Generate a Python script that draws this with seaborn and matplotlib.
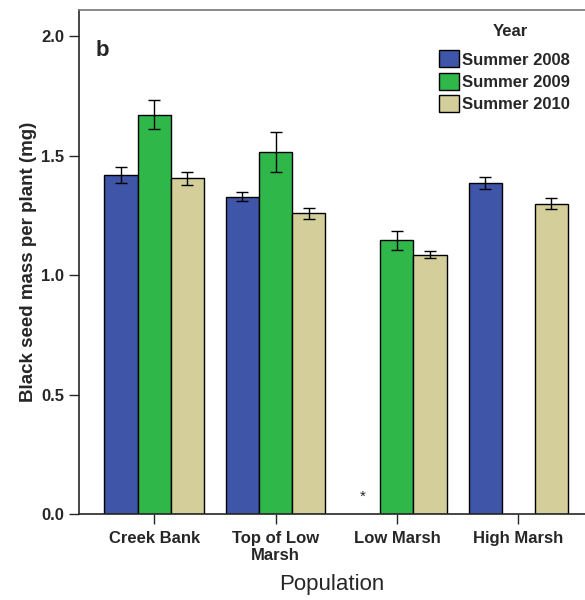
import numpy as np
import pandas as pd
import matplotlib
matplotlib.use("Agg")
import matplotlib.pyplot as plt
import seaborn as sns

categories = ["Creek Bank", "Top of Low\nMarsh", "Low Marsh", "High Marsh"]
years = ["Summer 2008", "Summer 2009", "Summer 2010"]
mean_2008 = [1.42, 1.33, np.nan, 1.385]
mean_2009 = [1.672, 1.515, 1.146, np.nan]
mean_2010 = [1.406, 1.259, 1.086, 1.30]
err_2008 = [0.035, 0.018, np.nan, 0.025]
err_2009 = [0.06, 0.083, 0.038, np.nan]
err_2010 = [0.026, 0.022, 0.015, 0.022]
colors = ["#3F55A8", "#2FB849", "#D4CF9A"]

rows = []
for yr, means, errs in zip(years, [mean_2008, mean_2009, mean_2010], [err_2008, err_2009, err_2010]):
    for c, m, e in zip(categories, means, errs):
        rows.append({"Population": c, "Year": yr, "mean": m, "err": e})
df = pd.DataFrame(rows)

sns.set_style("ticks")
plt.rcParams["font.family"] = ["Liberation Sans", "DejaVu Sans"]

fig = plt.figure(figsize=(5.85, 6.0), dpi=100)
ax = fig.add_axes([0.135, 0.143, 0.865, 0.84])

sns.barplot(data=df.dropna(subset=["mean"]), x="Population", y="mean", hue="Year",
            order=categories, hue_order=years, palette=colors, errorbar=None,
            width=0.82, edgecolor="black", linewidth=1.0, saturation=1, ax=ax)

# error bars
for yi, (yr, cont) in enumerate(zip(years, ax.containers)):
    sub = df[df["Year"] == yr].set_index("Population")
    for bar in cont:
        xc = bar.get_x() + bar.get_width() / 2
        ci = int(round(xc))
        e = sub.loc[categories[ci], "err"]
        ax.errorbar(xc, bar.get_height(), yerr=e, color="black", capsize=4,
                    elinewidth=1.0, capthick=1.0, zorder=5)

# asterisk for missing Low Marsh 2008
ax.text(2 - 0.285, 0.075, "*", ha="center", va="center", fontsize=11)

ax.set_xlim(-0.62, 3.55)
ax.set_ylim(0, 2.11)
ax.set_yticks([0, 0.5, 1.0, 1.5, 2.0])
ax.set_yticklabels(["0.0", "0.5", "1.0", "1.5", "2.0"])
ax.tick_params(axis="both", labelsize=12, length=7, width=1)
ax.tick_params(axis="x", pad=5)
for lab in ax.get_xticklabels() + ax.get_yticklabels():
    lab.set_fontweight("bold")
ax.set_ylabel("Black seed mass per plant (mg)", fontsize=13.5, fontweight="bold", labelpad=3)
ax.set_xlabel("Population", fontsize=16, labelpad=8)
for s in ax.spines.values():
    s.set_linewidth(1.2)
ax.spines["top"].set_color("#777777")
ax.spines["right"].set_visible(False)

ax.text(0.033, 0.92, "b", transform=ax.transAxes, fontsize=16, fontweight="bold",
        ha="left", va="center")

leg = ax.legend(loc="upper right", bbox_to_anchor=(1.0, 0.95), frameon=False,
                fontsize=12, handlelength=1.2, handleheight=1.2,
                handletextpad=0.2, labelspacing=0.3)
for t in leg.get_texts():
    t.set_fontweight("bold")
fig.text(0.873, 0.948, "Year", ha="center", va="center", fontsize=12, fontweight="bold")

fig.savefig("out.png", dpi=100)
